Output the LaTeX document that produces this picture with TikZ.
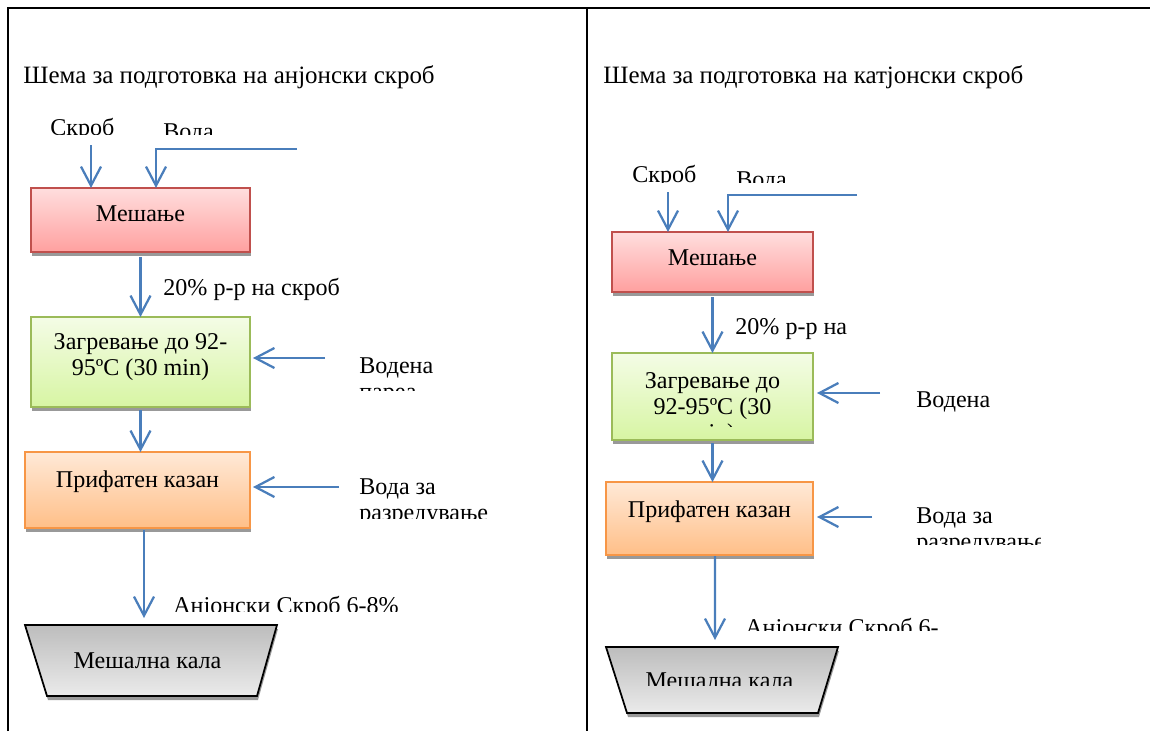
\documentclass[tikz,border=0pt]{standalone}
\usepackage{fontspec}
\setmainfont{Liberation Serif}
\usetikzlibrary{arrows.meta,shadows,positioning}

\definecolor{flowblue}{HTML}{4A7EBB}
\definecolor{redline}{HTML}{C0504D}
\definecolor{redtop}{HTML}{FFDEDE}
\definecolor{redbot}{HTML}{FFA09F}
\definecolor{greenline}{HTML}{9BBB59}
\definecolor{greentop}{HTML}{F4FCE6}
\definecolor{greenbot}{HTML}{D7F5A3}
\definecolor{orangeline}{HTML}{F79646}
\definecolor{orangetop}{HTML}{FFE9D7}
\definecolor{orangebot}{HTML}{FFBF88}

\newcommand{\boxfont}{\fontsize{13.7}{14.8}\selectfont}
\newcommand{\headfont}{\fontsize{14.2}{16}\selectfont}

\tikzset{
  frame/.style={line width=0.4mm},
  flow/.style={draw=flowblue, line width=0.45mm, -{Straight Barb[length=3.8mm,width=4mm]}},
  shade box/.style={drop shadow={shadow xshift=0.2mm, shadow yshift=-0.8mm, fill=black!40, opacity=1}},
  stage/.style={rectangle, inner sep=0pt, outer sep=0pt, line width=0.3mm, shade box},
  redstage/.style={stage, draw=redline, top color=redtop, bottom color=redbot},
  greenstage/.style={stage, draw=greenline, top color=greentop, bottom color=greenbot},
  orangestage/.style={stage, draw=orangeline, top color=orangetop, bottom color=orangebot},
  vat/.style={rectangle, inner sep=0pt, outer sep=0pt},
  vatbody/.style={shade box, draw=black, line width=0.35mm, top color=black!26, bottom color=black!8},
  boxtxt/.style={font=\boxfont, inner sep=0pt, align=center, anchor=north},
  lbl/.style={font=\boxfont, inner sep=0pt, align=left, anchor=north west},
  head/.style={font=\headfont, inner sep=0pt, anchor=north west}
}

\begin{document}
\begin{tikzpicture}[x=0.2mm, y=-0.2mm]
\useasboundingbox (0,0) rectangle (1150,731);

% table frame
\draw[frame] (8,731) -- (8,8) -- (1150,8);
\draw[frame] (587,8) -- (587,731);

% anionic starch
\node[head, name=title_1] at (23,65) {Шема за подготовка на анјонски скроб};
\begin{scope}
\clip (40,100) rectangle (240,134.5);
\node[lbl, name=skrob_1] at (50,118) {Скроб};
\node[lbl, name=voda_1] at (163,123) {Вода};
\end{scope}

\node[redstage, name=mes_1, minimum width=43.8mm, minimum height=12.8mm] at (140.5,220) {};
\node[boxtxt, name=mes_1_txt, below=3.4mm of mes_1.north] {Мешање};
\node[greenstage, name=zag_1, minimum width=43.8mm, minimum height=18mm] at (140.5,362) {};
\node[boxtxt, name=zag_1_txt, below=3.2mm of zag_1.north] {Загревање до 92-\\95ºC (30 min)};
\node[orangestage, name=pk_1, minimum width=45mm, minimum height=15.2mm] at (137.5,490) {};
\node[boxtxt, name=pk_1_txt, below=3.6mm of pk_1.north] {Прифатен казан};
\node[vat, name=kal_1, minimum width=50.4mm, minimum height=14.2mm] at (151,660.5) {};
\path[vatbody] (kal_1.north west) -- (kal_1.north east) -- ([xshift=-4mm]kal_1.south east)
  -- ([xshift=4.4mm]kal_1.south west) -- cycle;
\node[boxtxt, name=kal_1_txt] at (147.5,652) {Мешална кала};

\node[lbl, name=rr_1] at (163,278) {20\% р-р на скроб};
\begin{scope}
\clip (350,340) rectangle (480,390);
\node[lbl, name=para_1] at (359,357) {Водена\\пареа};
\end{scope}
\begin{scope}
\clip (350,460) rectangle (520,518);
\node[lbl, name=razr_1] at (359,478) {Вода за\\разредување};
\end{scope}
\begin{scope}
\clip (160,580) rectangle (420,611);
\node[lbl, name=anj_1] at (173,596) {Анјонски Скроб 6-8\%};
\end{scope}

\coordinate (skrob_1_in) at (91,145);
\coordinate (voda_1_in) at (297,149);
\coordinate (para_1_in) at (325,358);
\coordinate (razr_1_in) at (339,487);
\draw[flow] (skrob_1_in) -- (skrob_1_in |- mes_1.north);
\draw[flow] (voda_1_in) -| ([xshift=3.1mm]mes_1.north);
\draw[flow] ([yshift=-1mm]mes_1.south) -- (zag_1.north);
\draw[flow] ([yshift=-0.6mm]zag_1.south) -- (zag_1.south |- pk_1.north);
\draw[flow] (para_1_in) -- ([xshift=0.6mm]para_1_in -| zag_1.east);
\draw[flow] (razr_1_in) -- ([xshift=0.6mm]razr_1_in -| pk_1.east);
\draw[flow] ([xshift=1.3mm,yshift=-0.4mm]pk_1.south) -- ([xshift=1.3mm,yshift=1.4mm]pk_1.south |- kal_1.north);

% cationic starch
\node[head, name=title_2] at (603,65) {Шема за подготовка на катјонски скроб};
\begin{scope}
\clip (620,150) rectangle (820,182);
\node[lbl, name=skrob_2] at (632,165) {Скроб};
\node[lbl, name=voda_2] at (736,171) {Вода};
\end{scope}

\node[redstage, name=mes_2, minimum width=40.2mm, minimum height=12mm] at (712.5,262) {};
\node[boxtxt, name=mes_2_txt, below=3.5mm of mes_2.north] {Мешање};
\begin{scope}
\node[greenstage, name=zag_2, minimum width=40.2mm, minimum height=17.4mm] at (712.5,396.5) {};
\clip (612,360) rectangle (813,426.5);
\node[boxtxt, name=zag_2_txt, below=3.8mm of zag_2.north] {Загревање до\\92-95ºC (30\\min)};
\end{scope}
\node[orangestage, name=pk_2, minimum width=41.4mm, minimum height=14.6mm] at (709.5,518.5) {};
\node[boxtxt, name=pk_2_txt, below=3.6mm of pk_2.north] {Прифатен казан};
\node[vat, name=kal_2, minimum width=46.4mm, minimum height=13.2mm] at (722,680) {};
\path[vatbody] (kal_2.north west) -- (kal_2.north east) -- ([xshift=-4mm]kal_2.south east)
  -- ([xshift=4.2mm]kal_2.south west) -- cycle;
\begin{scope}
\clip (620,650) rectangle (830,685);
\node[boxtxt, name=kal_2_txt] at (719.5,672) {Мешална кала};
\end{scope}

\node[lbl, name=rr_2] at (735,318) {20\% р-р на};
\begin{scope}
\clip (900,370) rectangle (1010,415);
\node[lbl, name=para_2] at (916,391) {Водена\\пареа};
\end{scope}
\begin{scope}
\clip (900,490) rectangle (1040,544);
\node[lbl, name=razr_2] at (916,507) {Вода за\\разредување};
\end{scope}
\begin{scope}
\clip (735,600) rectangle (960,630);
\node[lbl, name=anj_2] at (745,618) {Анјонски Скроб 6-};
\end{scope}

\coordinate (skrob_2_in) at (668,192);
\coordinate (voda_2_in) at (857,195);
\coordinate (para_2_in) at (880,393);
\coordinate (razr_2_in) at (872,517);
\draw[flow] (skrob_2_in) -- (skrob_2_in |- mes_2.north);
\draw[flow] (voda_2_in) -| ([xshift=3.1mm]mes_2.north);
\draw[flow] ([yshift=-1mm]mes_2.south) -- (zag_2.north);
\draw[flow] ([yshift=-0.6mm]zag_2.south) -- (zag_2.south |- pk_2.north);
\draw[flow] (para_2_in) -- ([xshift=0.8mm]para_2_in -| zag_2.east);
\draw[flow] (razr_2_in) -- ([xshift=0.8mm]razr_2_in -| pk_2.east);
\draw[flow] ([xshift=1.1mm,yshift=-0.2mm]pk_2.south) -- ([xshift=-1.4mm,yshift=1.4mm]kal_2.north);

\end{tikzpicture}
\end{document}
